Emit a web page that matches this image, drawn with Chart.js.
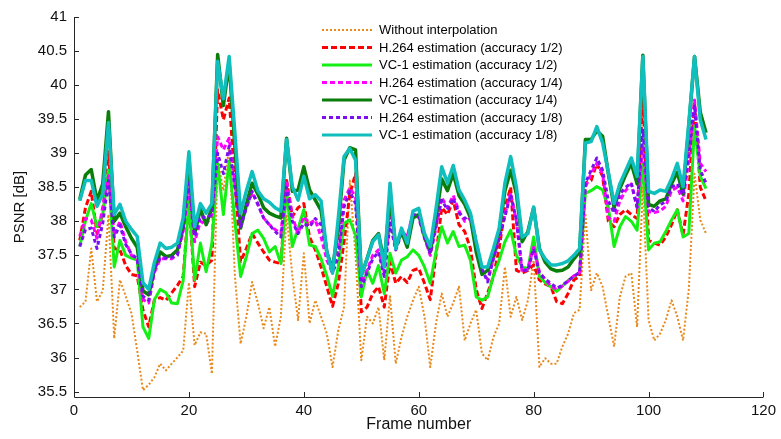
<!DOCTYPE html>
<html><head><meta charset="utf-8">
<script src="https://cdn.jsdelivr.net/npm/chart.js@4.4.1/dist/chart.umd.min.js"></script>
<style>html,body{margin:0;padding:0;background:#fff;}</style>
</head><body>
<canvas id="c" width="781" height="439"></canvas>
<script>
const frames = [1,2,3,4,5,6,7,8,9,10,11,12,13,14,15,16,17,18,19,20,21,22,23,24,25,26,27,28,29,30,31,32,33,34,35,36,37,38,39,40,41,42,43,44,45,46,47,48,49,50,51,52,53,54,55,56,57,58,59,60,61,62,63,64,65,66,67,68,69,70,71,72,73,74,75,76,77,78,79,80,81,82,83,84,85,86,87,88,89,90,91,92,93,94,95,96,97,98,99,100,101,102,103,104,105,106,107,108,109,110];
const xTicks = [0,20,40,60,80,100,120];
const yTicks = [35.5,36,36.5,37,37.5,38,38.5,39,39.5,40,40.5,41];
const seriesNames = ["Without interpolation","H.264 estimation (accuracy 1/2)","VC-1 estimation (accuracy 1/2)","H.264 estimation (accuracy 1/4)","VC-1 estimation (accuracy 1/4)","H.264 estimation (accuracy 1/8)","VC-1 estimation (accuracy 1/8)"];

const withoutInterpolation = [
36.74,36.82,37.60,36.82,36.98,38.10,36.28,37.14,36.90,36.65,
36.10,35.52,35.60,35.71,35.91,35.81,35.91,36.00,36.10,37.10,
36.18,36.37,36.35,35.76,38.90,38.45,39.10,37.20,36.20,36.60,
37.11,36.80,36.43,36.74,36.16,36.60,38.10,37.20,36.55,37.53,
36.50,36.84,36.60,36.35,35.86,36.40,36.74,38.60,37.50,35.96,
36.60,36.50,36.74,35.96,36.90,35.91,36.30,36.60,36.84,37.04,
36.60,35.86,36.50,36.94,36.60,36.80,37.04,36.25,36.50,36.70,
36.06,35.96,36.30,36.50,37.33,36.60,36.89,36.55,36.84,37.43,
35.86,35.99,35.91,35.91,36.16,36.35,36.65,36.70,38.12,36.99,
37.24,37.04,36.60,36.16,36.89,37.19,37.24,36.45,38.50,36.55,
36.25,36.35,36.55,36.84,36.60,36.25,37.00,38.70,38.02,37.82];

const h264Half = [
37.72,38.20,38.44,37.82,38.10,39.02,37.60,37.58,37.35,37.22,
37.20,36.70,36.45,36.85,36.88,36.84,36.95,37.06,37.19,38.30,
37.04,37.40,37.35,37.43,39.93,39.49,39.81,38.60,37.41,37.60,
37.82,37.68,37.55,37.43,37.40,37.38,38.60,38.07,38.20,38.26,
37.77,37.58,37.33,37.04,36.75,37.09,37.70,38.40,38.70,36.67,
36.74,36.94,37.04,36.74,37.40,37.09,37.19,37.10,37.28,37.31,
37.09,36.85,37.50,38.20,38.10,38.31,37.95,37.85,37.60,37.00,
36.72,36.95,37.19,37.60,38.20,38.50,37.28,37.24,37.28,37.36,
37.14,37.08,37.04,36.82,36.79,36.94,37.14,37.19,38.56,38.60,
38.85,38.66,38.00,37.92,38.10,38.17,38.10,38.04,39.85,37.72,
37.68,37.65,37.77,37.95,38.17,37.80,38.40,39.75,38.50,38.30];

const vc1Half = [
37.63,38.01,38.26,37.92,38.10,38.75,37.33,37.72,37.50,37.46,
37.43,36.45,36.28,36.85,37.00,36.95,36.80,36.79,37.13,38.30,
37.14,37.68,37.26,37.68,38.85,38.10,38.88,38.00,37.19,37.48,
37.82,37.87,37.75,37.55,37.63,37.38,38.45,37.63,37.90,38.17,
37.65,37.63,37.45,37.20,36.90,37.33,37.97,38.02,37.80,36.89,
37.28,37.09,37.35,36.94,37.53,37.24,37.43,37.48,37.58,37.50,
37.33,37.09,37.55,37.92,37.68,37.85,37.63,37.65,37.43,36.89,
36.84,36.89,37.20,37.43,37.70,37.87,37.50,37.33,37.30,37.77,
37.19,37.10,37.04,36.97,37.05,37.13,37.19,37.25,38.41,38.45,
38.51,38.46,38.20,37.63,37.92,38.07,38.00,37.87,38.85,37.58,
37.68,37.70,37.85,38.02,38.17,37.77,37.82,39.40,38.66,38.48];

const h264Quarter = [
37.78,38.04,38.02,37.75,38.21,38.67,37.80,38.00,37.70,37.50,
37.45,36.85,36.80,37.25,37.45,37.45,37.45,37.52,37.85,38.50,
37.70,38.00,37.95,38.10,39.24,39.05,39.22,38.55,37.95,38.20,
38.42,38.25,38.05,37.95,37.88,37.82,38.60,38.07,37.82,38.07,
37.97,38.02,37.77,37.43,37.24,37.60,38.31,38.49,38.36,37.10,
37.28,37.50,37.58,37.25,38.07,37.60,37.85,37.78,38.12,38.05,
37.75,37.50,37.90,38.35,38.20,38.38,38.15,38.00,38.05,37.60,
37.25,37.15,37.45,37.75,38.10,38.42,38.00,37.25,37.30,37.62,
37.25,37.15,37.05,37.00,37.05,37.12,37.20,37.25,38.50,38.70,
38.85,38.70,38.05,38.00,38.30,38.45,38.55,38.20,39.10,38.14,
38.13,38.15,38.22,38.45,38.50,38.30,38.90,39.78,38.85,38.73];

const vc1Quarter = [
38.32,38.68,38.76,38.30,38.55,39.61,38.00,38.12,37.92,37.75,
37.62,36.98,36.92,37.30,37.55,37.48,37.50,37.58,37.92,38.88,
37.82,38.18,37.95,38.20,40.45,39.70,40.32,39.10,37.90,38.25,
38.56,38.40,38.20,38.12,38.08,38.05,39.22,38.44,38.46,38.80,
38.46,38.31,38.16,37.55,37.30,37.90,38.90,39.08,39.05,37.20,
37.45,37.72,37.82,37.40,38.35,37.62,37.85,37.62,38.05,38.10,
37.78,37.55,38.05,38.62,38.45,38.70,38.38,38.25,38.05,37.55,
37.22,37.28,37.50,37.85,38.45,38.75,38.40,37.70,37.85,38.20,
37.60,37.40,37.30,37.27,37.28,37.33,37.45,37.55,39.20,39.20,
39.33,39.25,38.70,38.20,38.48,38.68,38.85,38.55,40.44,38.25,
38.22,38.30,38.33,38.55,38.72,38.40,39.40,40.42,39.60,39.30];

const h264Eighth = [
37.63,37.88,37.90,37.60,37.97,38.60,37.77,37.94,37.66,37.52,
37.45,36.90,36.84,37.30,37.46,37.46,37.47,37.50,37.90,38.60,
37.78,38.07,38.05,38.10,39.00,38.70,39.10,38.50,37.92,38.20,
38.44,38.25,38.05,37.95,37.85,37.77,38.50,38.00,37.82,37.97,
37.92,38.04,37.95,37.55,37.24,37.48,38.21,38.44,38.26,37.04,
37.24,37.45,37.55,37.19,37.97,37.58,37.82,37.75,38.10,38.09,
37.77,37.53,37.95,38.31,38.17,38.34,38.12,38.04,38.09,37.70,
37.30,37.11,37.45,37.75,38.07,38.39,38.02,37.28,37.28,37.60,
37.24,37.15,37.09,37.02,37.06,37.13,37.19,37.25,38.56,38.75,
38.93,38.75,38.30,38.12,38.40,38.50,38.56,38.21,39.34,38.21,
38.14,38.24,38.29,38.50,38.55,38.39,39.00,39.69,38.75,38.56];

const vc1Eighth = [
38.30,38.60,38.60,38.22,38.40,39.45,38.10,38.25,38.00,37.88,
37.78,37.10,37.00,37.40,37.68,37.60,37.62,37.68,38.05,39.02,
37.92,38.26,38.12,38.26,40.35,39.80,40.42,39.30,38.12,38.45,
38.73,38.45,38.33,38.28,38.20,38.15,39.20,38.51,38.31,38.66,
38.33,38.39,38.30,37.55,37.24,38.05,38.95,39.07,38.90,37.20,
37.45,37.70,37.80,37.33,38.56,37.60,37.90,37.68,38.15,38.19,
37.82,37.63,38.18,38.80,38.56,38.82,38.46,38.31,38.12,37.70,
37.33,37.33,37.60,37.90,38.56,38.95,38.50,37.77,37.82,38.21,
37.58,37.45,37.36,37.36,37.38,37.42,37.50,37.60,39.15,39.17,
39.39,39.15,38.72,38.26,38.55,38.74,38.93,38.66,40.42,38.44,
38.41,38.46,38.44,38.62,38.85,38.51,39.44,40.42,39.49,39.20];

const FONT = '"Liberation Sans", Arial, Helvetica, sans-serif';
const TXT = '#111';

function pts(vals){ return vals.map((v,i)=>({x: frames[i], y: v})); }

const styles = [
  {color:'#E8891A', width:2,   dash:[2,2], order:7},
  {color:'#FF0000', width:3,   dash:[6,3], order:6},
  {color:'#14F014', width:3,   dash:[],    order:5},
  {color:'#FF00FF', width:3,   dash:[5,3], order:4},
  {color:'#0A7D0A', width:3.5, dash:[],    order:3},
  {color:'#7A10F0', width:3,   dash:[4,3], order:2},
  {color:'#10BEBE', width:3.5, dash:[],    order:1}
];
const seriesValues = [withoutInterpolation, h264Half, vc1Half, h264Quarter, vc1Quarter, h264Eighth, vc1Eighth];

const datasets = seriesValues.map((vals, i) => ({
  label: seriesNames[i],
  data: pts(vals),
  borderColor: styles[i].color,
  backgroundColor: styles[i].color,
  borderWidth: styles[i].width,
  borderDash: styles[i].dash,
  pointRadius: 0,
  tension: 0,
  fill: false,
  order: styles[i].order,
  borderJoinStyle: 'round',
  borderCapStyle: 'butt'
}));

const axesPlugin = {
  id: 'axesLines',
  afterDatasetsDraw(chart) {
    const {ctx, chartArea: a, scales: {x, y}} = chart;
    ctx.save();
    ctx.strokeStyle = '#262626';
    ctx.lineWidth = 1;
    ctx.setLineDash([]);
    ctx.beginPath();
    ctx.moveTo(a.left + 0.5, a.top);
    ctx.lineTo(a.left + 0.5, a.bottom + 0.5);
    ctx.lineTo(a.right, a.bottom + 0.5);
    ctx.stroke();
    ctx.beginPath();
    yTicks.forEach(v => {
      const py = Math.round(y.getPixelForValue(v)) + 0.5;
      ctx.moveTo(a.left, py); ctx.lineTo(a.left + 5, py);
    });
    xTicks.forEach(v => {
      const px = Math.round(x.getPixelForValue(v)) + 0.5;
      ctx.moveTo(px, a.bottom); ctx.lineTo(px, a.bottom - 5);
    });
    ctx.stroke();
    ctx.restore();
  }
};

const legendPlugin = {
  id: 'innerLegend',
  afterDraw(chart) {
    const ctx = chart.ctx;
    ctx.save();
    ctx.font = '13px ' + FONT;
    ctx.textBaseline = 'middle';
    ctx.fillStyle = '#000';
    chart.data.datasets.forEach((ds, i) => {
      const yy = 30 + i * 17.5;
      ctx.strokeStyle = ds.borderColor;
      ctx.lineWidth = Math.min(ds.borderWidth, 3);
      ctx.setLineDash(ds.borderDash || []);
      ctx.beginPath();
      ctx.moveTo(322, yy); ctx.lineTo(372, yy);
      ctx.stroke();
      ctx.setLineDash([]);
      ctx.fillText(ds.label, 379, yy + 0.5);
    });
    ctx.restore();
  }
};

new Chart(document.getElementById('c'), {
  type: 'line',
  data: { datasets },
  options: {
    responsive: false,
    animation: false,
    devicePixelRatio: 1,
    layout: { padding: { left: 0, right: 13, top: 17, bottom: 0 } },
    plugins: { legend: { display: false }, tooltip: { enabled: false } },
    scales: {
      x: {
        type: 'linear', min: 0, max: 120,
        afterBuildTicks: s => { s.ticks = xTicks.map(v => ({value: v})); },
        afterFit: s => { s.height = 42; },
        grid: { display: false, drawTicks: false },
        border: { display: false },
        ticks: { padding: 5, color: TXT, font: { family: FONT, size: 15 }, maxRotation: 0, autoSkip: false, callback: v => String(v) },
        title: { display: true, text: 'Frame number', color: TXT, font: { family: FONT, size: 16 }, padding: { top: 0, bottom: 5 } }
      },
      y: {
        type: 'linear', min: 35.42, max: 41,
        afterBuildTicks: s => { s.ticks = yTicks.map(v => ({value: v})); },
        afterFit: s => { s.width = 74; },
        grid: { display: false, drawTicks: false },
        border: { display: false },
        ticks: { padding: 7, color: TXT, font: { family: FONT, size: 15 }, autoSkip: false, callback: v => String(v) },
        title: { display: true, text: 'PSNR [dB]', color: TXT, font: { family: FONT, size: 15 }, padding: { top: 11, bottom: 0 } }
      }
    }
  },
  plugins: [axesPlugin, legendPlugin]
});
</script>
</body></html>
